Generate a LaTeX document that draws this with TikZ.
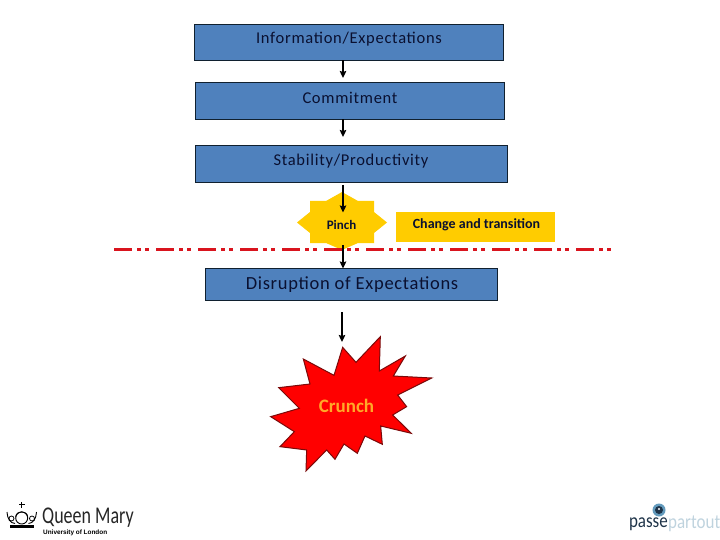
\documentclass[tikz,border=0pt]{standalone}
\usepackage{fontspec}
\setmainfont{Carlito}
\newfontfamily\logofont{Liberation Sans}
\newfontfamily\spacedfont[LetterSpace=4.3]{Carlito}
\newfontfamily\widefont[LetterSpace=3.8]{Carlito}
\usetikzlibrary{arrows.meta,calc}
\definecolor{boxblue}{HTML}{4F81BD}
\definecolor{boxedge}{HTML}{10202F}
\definecolor{gold}{HTML}{FFCC00}
\definecolor{inkdark}{HTML}{0A1030}
\definecolor{cutred}{HTML}{D9141E}
\definecolor{crunchedge}{HTML}{7A0A0A}
\definecolor{crunchink}{HTML}{FFA928}
\definecolor{eyeblue}{HTML}{1F6F9F}
\definecolor{partgrey}{HTML}{BFD3DE}
\definecolor{passeink}{HTML}{1E3348}
\tikzset{
  x=1pt,y=-1pt,
  blockbox/.style={draw=boxedge,line width=1pt,fill=boxblue},
  label/.style={text=inkdark,inner sep=0pt,anchor=center},
  flow/.style={draw=black,line width=1.5pt,-{Stealth[length=7pt,width=6.5pt,inset=1pt]}},
  cut/.style={draw=cutred,line width=3pt,dash pattern=on 18pt off 5pt on 4pt off 4pt on 4pt off 7pt},
}
\begin{document}
\begin{tikzpicture}
\useasboundingbox (0,0) rectangle (720,540);
% blocks
\path[blockbox] (194,24.5) rectangle (503,60.5);
\path[blockbox] (195,82.5) rectangle (504,119.5);
\path[blockbox] (195,145.5) rectangle (507,182.5);
\path[blockbox] (205.5,268.5) rectangle (497,300.5);
\coordinate (infoS) at (343,60.5);
\coordinate (commitN) at (343,78);
\coordinate (commitS) at (343,119.5);
\coordinate (stabN) at (343,137);
\coordinate (stabS) at (343,185);
\coordinate (pinchIn) at (343,212.5);
\coordinate (pinchOut) at (343,245);
\coordinate (disN) at (343,268.5);
\coordinate (disS) at (342,312);
\coordinate (crunchN) at (342,342);
\node[label,font=\spacedfont\fontsize{16.5}{18}\selectfont] (info) at (349,39) {Information/Expectations};
\node[label,font=\spacedfont\fontsize{16.5}{18}\selectfont] (commit) at (350,98) {Commitment};
\node[label,font=\spacedfont\fontsize{16.5}{18}\selectfont] (stab) at (351,161) {Stability/Productivity};
\node[label,font=\widefont\fontsize{18.5}{20}\selectfont] (dis) at (352,284.5) {Disruption of Expectations};
% pinch star
\fill[gold] (342,192) -- (358,201) -- (374,201) -- (374,212) -- (387,222.5) -- (374,233) -- (374,243) -- (358,243) -- (342,250) -- (326,243) -- (310,243) -- (310,233) -- (297,222.5) -- (310,212) -- (310,201) -- (326,201) -- cycle;
\node[label,font=\bfseries\fontsize{13}{15}\selectfont] (pinch) at (341.5,225) {Pinch};
\fill[gold] (396,212) rectangle (555,242);
\node[label,font=\bfseries\fontsize{14}{16}\selectfont] (change) at (476.5,225) {Change and transition};
% dividing line
\coordinate (cutL) at (114,249);
\coordinate (cutR) at (612,249);
\draw[cut] (cutL) -- (cutR);
% crunch burst
\begin{scope}[shift={(250,300)},x=0.3333pt,y=-0.3333pt]
\filldraw[fill=red,draw=crunchedge,line width=1pt,line join=miter]
 (278,142) -- (318,187) -- (391,110) -- (388,213) -- (466,168) -- (430,228) -- (545,234) -- (443,285) -- (470,320) -- (428,345) -- (484,400) -- (392,378) -- (397,433) -- (345,408) -- (322,460) -- (282,432) -- (255,478) -- (230,450) -- (168,513) -- (170,450) -- (90,440) -- (133,395) -- (62,350) -- (148,325) -- (86,263) -- (180,252) -- (160,177) -- (252,226) -- cycle;
\end{scope}
\node[inner sep=0pt,text=crunchink,font=\bfseries\fontsize{19}{21}\selectfont] (crunch) at (346.5,405.5) {Crunch};
% connectors
\draw[flow] (infoS) -- (commitN);
\draw[flow] (commitS) -- (stabN);
\draw[flow] (stabS) -- (pinchIn);
\draw[flow] (pinchOut) -- (disN);
\draw[flow] (disS) -- (crunchN);
% Queen Mary logo
\draw[black,line width=1pt] (21.7,502) -- (21.7,508) (19,504.5) -- (24.5,504.5);
\draw[black,line width=0.9pt] (21.7,518) circle[radius=6];
\draw[black,line width=0.8pt] (15.7,517) .. controls (16,510) and (27.4,510) .. (27.7,517);
\draw[black,line width=0.9pt] (7,512) .. controls (7.5,519) and (10,523) .. (15,523.5);
\draw[black,line width=0.9pt] (36.5,512) .. controls (36,519) and (33.5,523) .. (28.5,523.5);
\draw[black,line width=0.8pt] (11.5,518.5) circle[radius=2.5];
\draw[black,line width=0.8pt] (32,518.5) circle[radius=2.5];
\fill[black] (10,525) rectangle (33.5,527.5);
\node[inner sep=0pt,anchor=west,transform shape,xscale=0.75,font=\fontsize{24}{26}\selectfont,text=black!85] (qm) at (42,518) {Queen Mary};
\node[inner sep=0pt,anchor=west,font=\logofont\bfseries\fontsize{6.4}{8}\selectfont,text=black] (uol) at (43,532.5) {University of London};
% passepartout logo
\fill[eyeblue!70] (659,510) circle[radius=6.5];
\fill[passeink] (659,510) circle[radius=4];
\fill[white] (659,509) circle[radius=1.2];
\node[inner sep=0pt,anchor=east,transform shape,xscale=0.85,font=\fontsize{20}{22}\selectfont,text=passeink] (passe) at (668,524) {passe};
\node[inner sep=0pt,anchor=west,transform shape,xscale=0.85,font=\fontsize{20}{22}\selectfont,text=partgrey] (part) at (668,524) {partout};
\end{tikzpicture}
\end{document}
